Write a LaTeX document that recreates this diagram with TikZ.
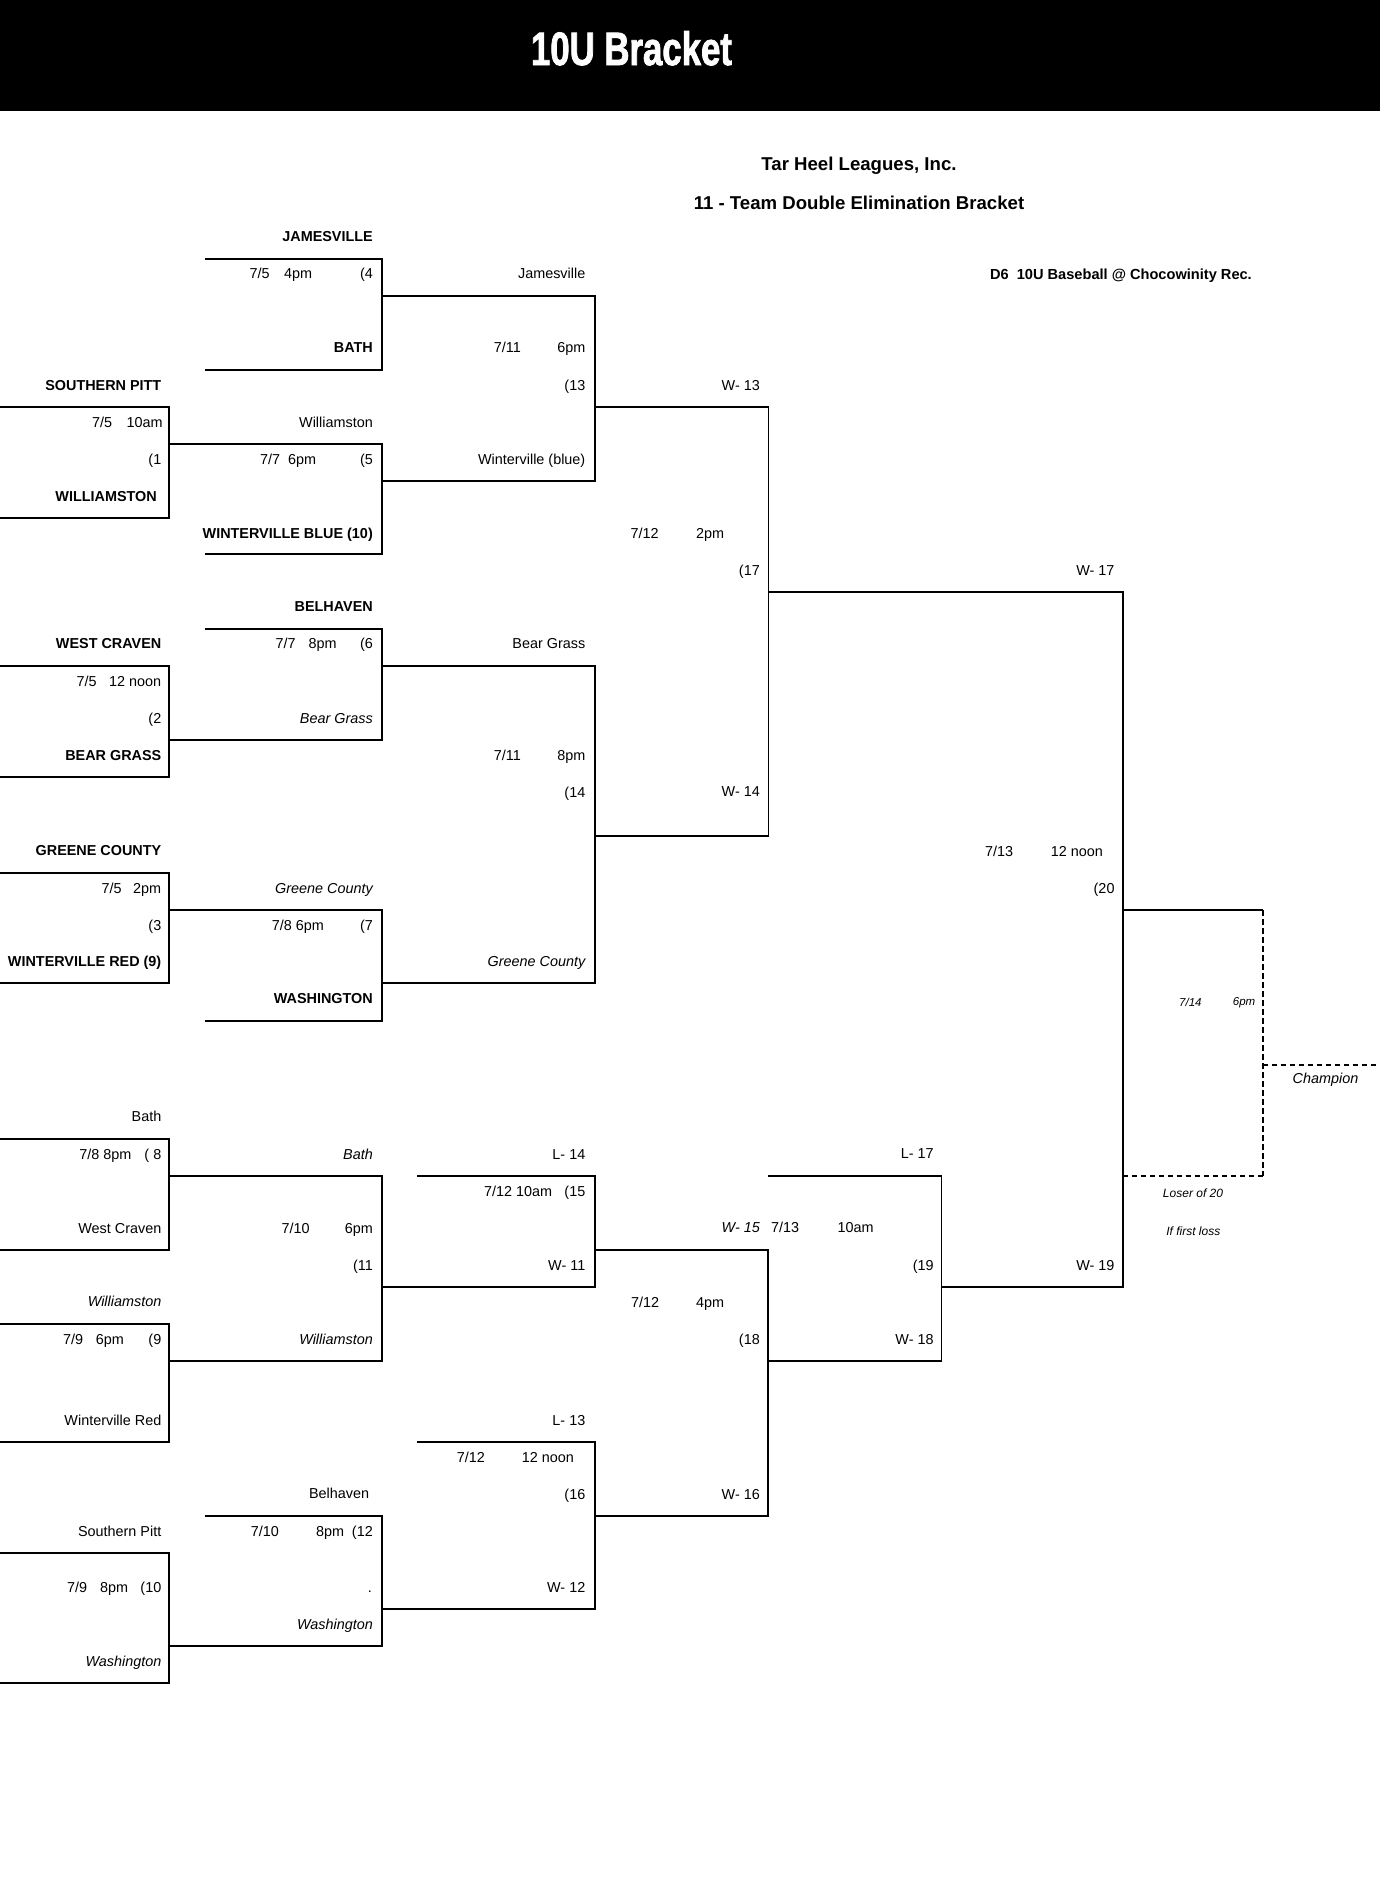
\documentclass[tikz,border=0pt]{standalone}
\usepackage{fontspec}
\setmainfont{Liberation Sans}
\newfontfamily\titlefont[FakeStretch=0.74, FakeBold=1.6]{Liberation Sans}

\begin{document}
\begin{tikzpicture}[
    x=1pt, y=-1pt,
    font=\fontsize{14.4}{17}\selectfont,
    bracket/.style={line width=1.7pt, line join=miter},
    final_dashed/.style={line width=1.7pt, dash pattern=on 5.5pt off 3.5pt},
    info/.style={anchor=base east, inner sep=0pt, yshift=-5.2pt},
    info_l/.style={anchor=base west, inner sep=0pt, yshift=-5.2pt},
    team_bold/.style={info, font=\fontsize{14.4}{17}\selectfont\bfseries},
    team_it/.style={info, font=\fontsize{14.4}{17}\selectfont\itshape},
    header/.style={inner sep=0pt, font=\fontsize{18.6}{22}\selectfont\bfseries},
    title/.style={inner sep=0pt, text=white, font=\titlefont\bfseries\fontsize{47}{50}\selectfont},
    note/.style={inner sep=0pt, font=\fontsize{12}{14}\selectfont\itshape},
    note_l/.style={anchor=west, inner sep=0pt, font=\fontsize{11.5}{14}\selectfont\itshape}
]
\useasboundingbox (0,0) rectangle (1380,1881);

% Columns of the bracket
\def\xA{169.2}  \def\xB{382}  \def\xC{595}
\def\xD{768.5}  \def\xE{941.5}  \def\xF{1122.7}
\def\inB{204.7} \def\inC{417}
% Right edges of the labels
\def\rA{161.5}  \def\rB{373}  \def\rC{585.5}
\def\rD{760}    \def\rE{933.8} \def\rF{1114.7}

% top line start, bottom line start, vertical, top y, bottom y
\newcommand{\game}[5]{
    \draw[bracket] (#1,#4) -- (#3,#4) -- (#3,#5) -- (#2,#5);
}

% ==========================================
% Header
\fill[black] (0,0) rectangle (1380,110.7);
\node[title] (title) at (631.5,48.3) {10U Bracket};
\node[header] (league) at (859,166) {Tar Heel Leagues, Inc.};
\node[header] (format) at (859,202.7) {11 - Team Double Elimination Bracket};
\node[info, font=\fontsize{14.6}{17}\selectfont\bfseries] (division) at (1252,274.3) {D6\ \ 10U Baseball @ Chocowinity Rec.};

% ==========================================
% Winners side: brackets
\game{\inB}{\inB}{\xB}{259}{370}      % 4
\game{0}{0}{\xA}{406.7}{517.7}        % 1
\game{\xA}{\inB}{\xB}{444}{554.3}     % 5
\game{\xB}{\xB}{\xC}{296}{480.7}      % 13
\game{\inB}{\xA}{\xB}{629}{740}       % 6
\game{0}{0}{\xA}{666}{776.7}          % 2
\game{0}{0}{\xA}{873.3}{983.3}        % 3
\game{\xA}{\inB}{\xB}{910}{1021}      % 7
\game{\xB}{\xB}{\xC}{666}{983.3}      % 14
\game{\xC}{\xC}{\xD}{406.7}{836}      % 17
\game{\xD}{\xE}{\xF}{591.7}{1286.7}   % 20

% Winners side: labels
\node[team_bold] (sp_seed) at (\rA,385) {SOUTHERN PITT};
\node[info_l] (g1_date) at (91.8,422) {7/5};
\node[info_l] (g1_time) at (126.3,422) {10am};
\node[info] (g1_no) at (\rA,459) {(1};
\node[team_bold] (wil_seed) at (157,496) {WILLIAMSTON};

\node[team_bold] (wc_seed) at (\rA,643.3) {WEST CRAVEN};
\node[info_l] (g2_date) at (76.5,681) {7/5};
\node[info_l] (g2_time) at (109,681) {12 noon};
\node[info] (g2_no) at (\rA,718.3) {(2};
\node[team_bold] (bg_seed) at (\rA,755) {BEAR GRASS};

\node[team_bold] (gc_seed) at (\rA,850.7) {GREENE COUNTY};
\node[info_l] (g3_date) at (101.4,888.3) {7/5};
\node[info_l] (g3_time) at (133,888.3) {2pm};
\node[info] (g3_no) at (\rA,925.7) {(3};
\node[team_bold] (wr_seed) at (\rA,961.7) {WINTERVILLE RED (9)};

\node[team_bold] (jam_seed) at (\rB,236.7) {JAMESVILLE};
\node[info_l] (g4_date) at (249.5,273) {7/5};
\node[info_l] (g4_time) at (284,273) {4pm};
\node[info] (g4_no) at (\rB,273) {(4};
\node[team_bold] (bath_seed) at (\rB,347.7) {BATH};
\node[info] (g5_top) at (\rB,422) {Williamston};
\node[info_l] (g5_date) at (260,459) {7/7};
\node[info_l] (g5_time) at (287.8,459) {6pm};
\node[info] (g5_no) at (\rB,459) {(5};
\node[team_bold] (wb_seed) at (\rB,533) {WINTERVILLE BLUE (10)};
\node[team_bold] (bel_seed) at (\rB,606.7) {BELHAVEN};
\node[info_l] (g6_date) at (275.5,643.3) {7/7};
\node[info_l] (g6_time) at (308.5,643.3) {8pm};
\node[info] (g6_no) at (\rB,643.3) {(6};
\node[team_it] (g6_bot) at (\rB,718) {Bear Grass};
\node[team_it] (g7_top) at (\rB,888) {Greene County};
\node[info_l] (g7_date) at (271.7,925.7) {7/8 6pm};
\node[info] (g7_no) at (\rB,925.7) {(7};
\node[team_bold] (wash_seed) at (\rB,998.3) {WASHINGTON};

\node[info] (g13_top) at (\rC,273) {Jamesville};
\node[info_l] (g13_date) at (493.7,347.7) {7/11};
\node[info] (g13_time) at (\rC,347.7) {6pm};
\node[info] (g13_no) at (\rC,385) {(13};
\node[info] (g13_bot) at (\rC,459) {Winterville (blue)};
\node[info] (g14_top) at (\rC,643.3) {Bear Grass};
\node[info_l] (g14_date) at (493.7,755) {7/11};
\node[info] (g14_time) at (\rC,755) {8pm};
\node[info] (g14_no) at (\rC,792) {(14};
\node[team_it] (g14_bot) at (\rC,961.7) {Greene County};

\node[info] (g17_top) at (\rD,385) {W- 13};
\node[info_l] (g17_date) at (630.4,533.3) {7/12};
\node[info_l] (g17_time) at (696,533.3) {2pm};
\node[info] (g17_no) at (\rD,570) {(17};
\node[info] (g17_bot) at (\rD,791.7) {W- 14};

\node[info] (g20_top) at (\rF,570) {W- 17};
\node[info_l] (g20_date) at (985,851) {7/13};
\node[info_l] (g20_time) at (1050.7,851) {12 noon};
\node[info] (g20_no) at (\rF,888.3) {(20};
\node[info] (g20_bot) at (\rF,1265) {W- 19};

% ==========================================
% Extra game if needed
\draw[bracket] (\xF,910) -- (1262.7,910);
\draw[final_dashed] (1262.7,910) -- (1262.7,1176);
\draw[final_dashed] (\xF,1176) -- (1262.7,1176);
\draw[final_dashed] (1262.7,1065) -- (1380,1065);
\node[note_l] (g21_date) at (1179,1002.3) {7/14};
\node[note_l] (g21_time) at (1232.7,1002.3) {6pm};
\node[note, font=\fontsize{14.4}{17}\selectfont\itshape] (champ) at (1325.5,1080) {Champion};
\node[note] (g21_loser) at (1193,1193.3) {Loser of 20};
\node[note] (g21_cond) at (1193.3,1230.7) {If first loss};

% ==========================================
% Losers side: brackets
\game{0}{0}{\xA}{1139.3}{1250}        % 8
\game{0}{0}{\xA}{1324}{1441.7}        % 9
\game{0}{0}{\xA}{1553.3}{1682.7}      % 10
\game{\xA}{\xA}{\xB}{1176}{1360.7}    % 11
\game{\inB}{\xA}{\xB}{1516}{1646}     % 12
\game{\inC}{\xB}{\xC}{1176}{1286.7}   % 15
\game{\inC}{\xB}{\xC}{1441.7}{1609}   % 16
\game{\xC}{\xC}{768.2}{1250}{1516}    % 18
\game{768.2}{768.2}{\xE}{1176}{1360.7} % 19

% Losers side: labels
\node[info] (g8_top) at (\rA,1116.7) {Bath};
\node[info_l] (g8_date) at (79.2,1154) {7/8 8pm};
\node[info] (g8_no) at (\rA,1154) {( 8};
\node[info] (g8_bot) at (\rA,1228.3) {West Craven};
\node[team_it] (g9_top) at (\rA,1301.7) {Williamston};
\node[info_l] (g9_date) at (63,1339.3) {7/9};
\node[info_l] (g9_time) at (95.7,1339.3) {6pm};
\node[info] (g9_no) at (\rA,1339.3) {(9};
\node[info] (g9_bot) at (\rA,1420) {Winterville Red};
\node[info] (g10_top) at (\rA,1531) {Southern Pitt};
\node[info_l] (g10_date) at (67,1587.3) {7/9};
\node[info_l] (g10_time) at (100,1587.3) {8pm};
\node[info] (g10_no) at (\rA,1587.3) {(10};
\node[team_it] (g10_bot) at (\rA,1661) {Washington};

\node[team_it] (g11_top) at (\rB,1154) {Bath};
\node[info_l] (g11_date) at (281.3,1228.3) {7/10};
\node[info] (g11_time) at (\rB,1228.3) {6pm};
\node[info] (g11_no) at (\rB,1265) {(11};
\node[team_it] (g11_bot) at (\rB,1339.3) {Williamston};
\node[info] (g12_top) at (369.3,1493.3) {Belhaven};
\node[info_l] (g12_date) at (250.7,1531) {7/10};
\node[info_l] (g12_time) at (316,1531) {8pm};
\node[info] (g12_no) at (\rB,1531) {(12};
\node[info] (g12_dot) at (372,1587.3) {.};
\node[team_it] (g12_bot) at (\rB,1624) {Washington};

\node[info] (g15_top) at (\rC,1154) {L- 14};
\node[info_l] (g15_date) at (484,1191) {7/12 10am};
\node[info] (g15_no) at (\rC,1191) {(15};
\node[info] (g15_bot) at (\rC,1265) {W- 11};
\node[info] (g16_top) at (\rC,1420) {L- 13};
\node[info_l] (g16_date) at (456.6,1457) {7/12};
\node[info_l] (g16_time) at (521.7,1457) {12 noon};
\node[info] (g16_no) at (\rC,1494) {(16};
\node[info] (g16_bot) at (\rC,1587.3) {W- 12};

\node[team_it] (g18_top) at (\rD,1227.7) {W- 15};
\node[info_l] (g18_date) at (630.8,1302) {7/12};
\node[info_l] (g18_time) at (695.8,1302) {4pm};
\node[info] (g18_no) at (\rD,1339) {(18};
\node[info] (g18_bot) at (\rD,1494) {W- 16};

\node[info] (g19_top) at (\rE,1153.3) {L- 17};
\node[info_l] (g19_date) at (771,1227.7) {7/13};
\node[info_l] (g19_time) at (837.4,1227.7) {10am};
\node[info] (g19_no) at (\rE,1265) {(19};
\node[info] (g19_bot) at (\rE,1339) {W- 18};

\end{tikzpicture}
\end{document}
